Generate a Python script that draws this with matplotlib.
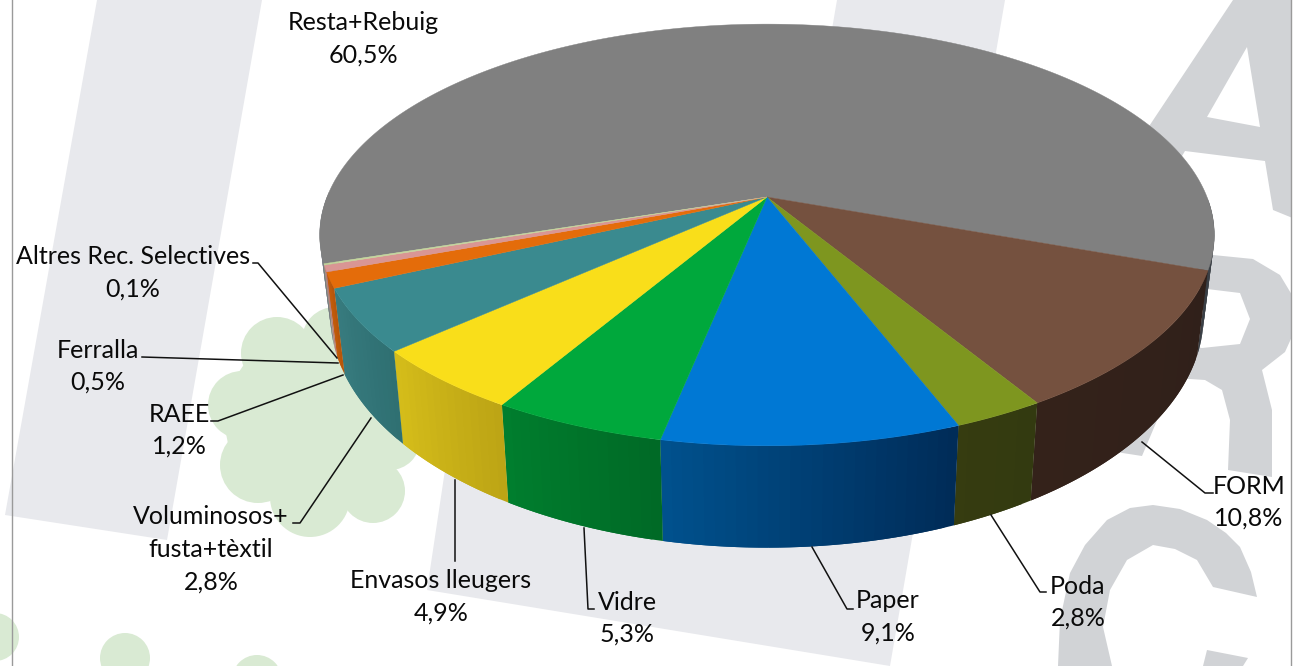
import numpy as np
import matplotlib.pyplot as plt
from matplotlib.patches import Circle, Polygon

# Data (share of each slice, clockwise from the big one)
categories = ['Resta+Rebuig', 'FORM', 'Poda', 'Paper', 'Vidre', 'Envasos lleugers',
              'Voluminosos+\nfusta+tèxtil', 'RAEE', 'Ferralla', 'Altres Rec. Selectives']
slice_values = [60.5, 10.8, 2.8, 9.1, 5.3, 4.9, 4.8, 1.2, 0.5, 0.1]
# the printed label of Voluminosos says 2,8% although its slice is drawn wider
value_labels = ['60,5%', '10,8%', '2,8%', '9,1%', '5,3%', '4,9%', '2,8%', '1,2%', '0,5%', '0,1%']

top_colors = ['#808080', '#75513f', '#7e961f', '#0078d4', '#00a83c', '#f9de1a',
              '#3a8a8f', '#e46c0a', '#d99694', '#c3d69b']
# wall shading: colour at the start and at the end of each slice, going clockwise
side_start = ['#7a7f85', '#30201a', '#333a10', '#002c58', '#006a26', '#bda515',
              '#2f7072', '#b8560a', '#b87c7a', '#a5b583']
side_end = ['#3a3f45', '#34221a', '#363c10', '#00528f', '#007f2e', '#d6be1a',
            '#387c80', '#c85f0a', '#b87c7a', '#a5b583']

# Label places in pixels
label_pos = [(363, 23), (1249, 486), (1078, 586), (888, 601), (627, 602), (441, 581),
             (211, 517), (179, 414), (98, 350), (133, 257)]
leaders = [None,
           [(1142, 442), (1205, 493), (1213, 493)],
           [(991, 515), (1040, 592), (1046, 592)],
           [(812, 547), (847, 609), (853, 609)],
           [(584, 528), (588, 609), (594, 609)],
           [(455, 480), (455, 561)],
           [(371, 418), (300, 523), (293, 523)],
           [(343, 375), (218, 421), (211, 421)],
           [(338, 363), (142, 357)],
           [(337, 358), (258, 263), (253, 263)]]

# Pie geometry: perspective view of a disc
cx, cy = 767, 197
rx, ry, k = 440, 204, 0.18
start_angle = 198.0


def top_rim(t):
    w = 1 + k * np.sin(t)
    return cx + rx * np.cos(t) / w, cy - ry * np.sin(t) / w


def bottom_rim(t):
    x, y = top_rim(t)
    return cx + 0.976 * (x - cx), cy + 1.1 * (y - cy) + 77


def hex_rgb(c):
    return np.array([int(c[i:i + 2], 16) for i in (1, 3, 5)]) / 255


fig = plt.figure(figsize=(12.95, 6.66), dpi=100)
ax = fig.add_axes([0, 0, 1, 1])
ax.set_xlim(0, 1295)
ax.set_ylim(666, 0)
ax.axis('off')

# Watermark behind the chart
bar_color = '#e8e9ed'
letter_color = '#d1d3d6'
green = '#d9ead3'
ax.add_patch(Polygon([(97, 0), (262, 0), (167, 540), (5, 515)], fc=bar_color, ec='none'))
ax.add_patch(Polygon([(837, 0), (1005, 0), (890, 666), (427, 590), (445, 470), (760, 450)],
                     fc=bar_color, ec='none'))
for x, y, r in [(315, 420, 90), (277, 353, 36), (335, 340, 33), (242, 405, 34), (258, 465, 38),
                (310, 497, 40), (373, 491, 32), (390, 440, 30), (-5, 637, 24), (125, 658, 25),
                (257, 680, 25)]:
    ax.add_patch(Circle((x, y), r, fc=green, ec='none'))

ax.add_patch(Polygon([(1233, 0), (1295, 0), (1295, 219), (1273, 210), (1265, 161), (1185, 151),
                      (1150, 210), (1100, 200)], fc=letter_color, ec='none'))
ax.add_patch(Polygon([(1247, 47), (1207, 117), (1260, 127)], fc='white', ec='none'))
ax.add_patch(Polygon([(1213, 255), (1253, 259), (1280, 275), (1295, 300), (1295, 330), (1285, 352),
                      (1262, 370), (1272, 410), (1272, 477), (1228, 470), (1230, 420), (1222, 390),
                      (1205, 380), (1175, 378), (1142, 456), (1090, 448), (1150, 250)],
                     fc=letter_color, ec='none'))
ax.add_patch(Polygon([(1207, 289), (1240, 293), (1250, 319), (1240, 344), (1202, 348), (1150, 340),
                      (1170, 285)], fc='white', ec='none'))
ax.add_patch(Polygon([(1058, 666), (1060, 620), (1070, 573), (1085, 545), (1107, 520), (1130, 508),
                      (1153, 505), (1180, 509), (1207, 520), (1226, 533), (1240, 547), (1251, 572),
                      (1257, 597), (1213, 587), (1197, 560), (1175, 549), (1153, 545), (1127, 560),
                      (1110, 590), (1103, 627), (1112, 666)], fc=letter_color, ec='none'))
ax.add_patch(Polygon([(1203, 666), (1207, 650), (1248, 658), (1243, 666)], fc=letter_color, ec='none'))
ax.add_patch(Polygon([(1292, 0), (1295, 0), (1295, 666), (1292, 666)], fc='white', ec='none'))
ax.plot([12, 12], [0, 666], color='#9a9a9a', lw=1)
ax.plot([1291, 1291], [0, 666], color='#9a9a9a', lw=1)

# Slice edges from the values
fracs = np.array(slice_values) / sum(slice_values)
edges = np.radians(start_angle - 360 * np.concatenate([[0], np.cumsum(fracs)]))

# Side wall first, cut into overlapping strips so the shading runs across each slice
for i in range(len(slice_values)):
    n = max(int(abs(edges[i] - edges[i + 1]) / 0.02), 2)
    ts = np.linspace(edges[i], edges[i + 1], n + 1)
    for j in range(n):
        if i == 0 and np.sin(ts[j]) > 0:
            continue
        t = ts[j:j + 3]
        mix = j / n
        col = (1 - mix) * hex_rgb(side_start[i]) + mix * hex_rgb(side_end[i])
        x1, y1 = top_rim(t)
        x2, y2 = bottom_rim(t[::-1])
        ax.fill(np.r_[x1, x2], np.r_[y1, y2], color=col, lw=0, zorder=3)

# Top face
for i in range(len(slice_values)):
    t = np.linspace(edges[i], edges[i + 1], 300)
    x, y = top_rim(t)
    ax.fill(np.r_[cx, x], np.r_[cy, y], color=top_colors[i], lw=0.3, zorder=4)

# Leader lines and labels
for pts in leaders:
    if pts is None:
        continue
    ax.plot([p[0] for p in pts], [p[1] for p in pts], color='#111111', lw=1.1, zorder=5)

plt.rcParams['font.family'] = ['Lato', 'DejaVu Sans']
line_step = 32.5
for name, val, (x, y) in zip(categories, value_labels, label_pos):
    lines = name.split('\n') + [val]
    for n, line in enumerate(lines):
        ax.text(x, y + n * line_step, line, ha='center', va='center', fontsize=18,
                color='#0a0a0a', zorder=6)

fig.savefig('out.png', dpi=100)
